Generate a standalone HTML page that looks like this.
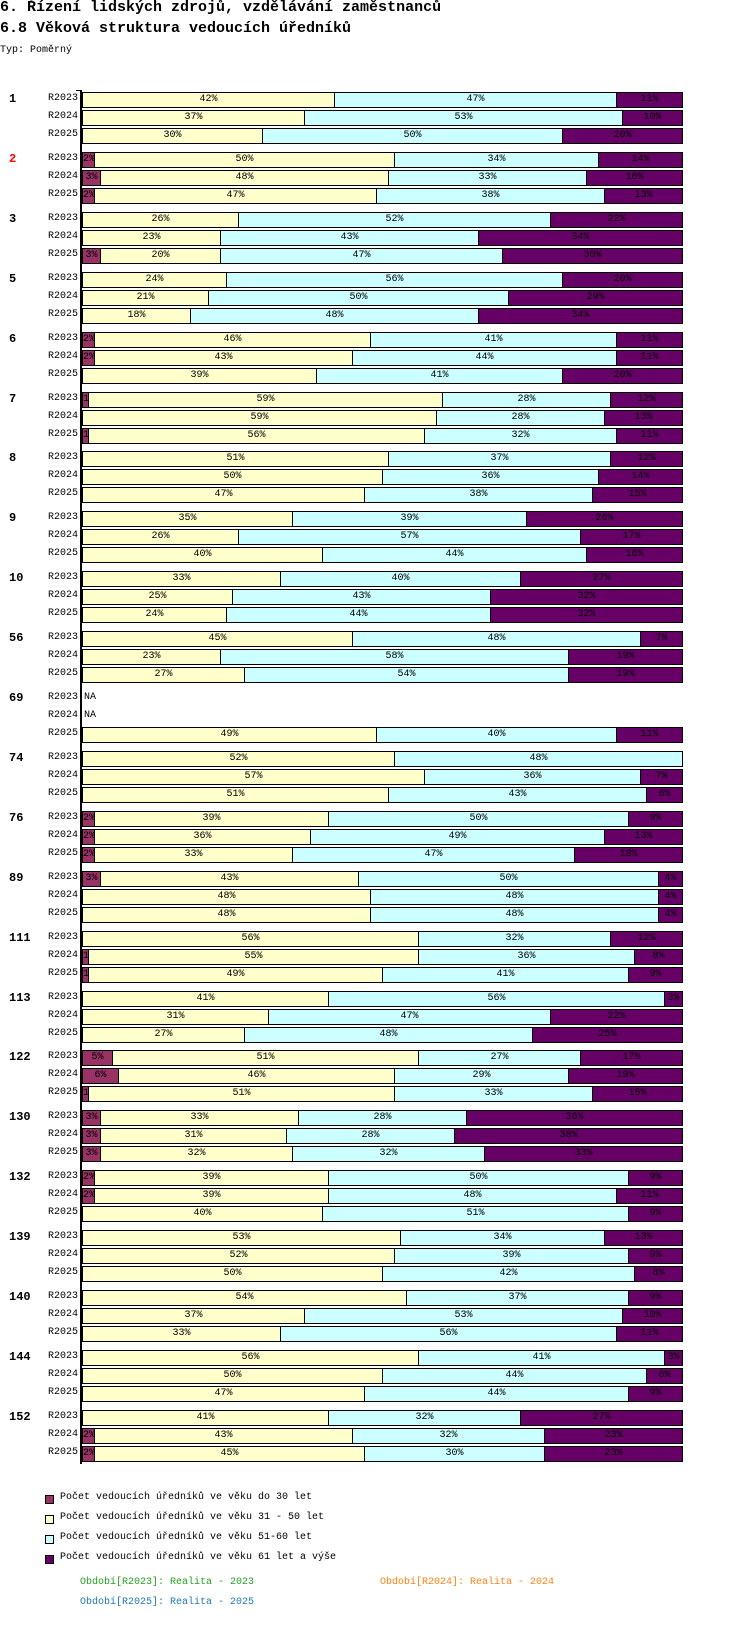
<!DOCTYPE html>
<html><head><meta charset="utf-8">
<style>
body{margin:0;width:750px;height:1642px;background:#fff;position:relative;overflow:hidden;font-family:"Liberation Mono",monospace;}
.abs{position:absolute;white-space:nowrap;}
.seg{position:absolute;box-sizing:border-box;border:1px solid #000;height:16px;overflow:hidden;font-size:10px;line-height:14px;text-align:center;color:#000;}
.gl{position:absolute;font-weight:bold;font-size:12px;left:9px;}
.pl{position:absolute;font-size:10px;width:78px;left:0;text-align:right;}
.sw{position:absolute;width:9px;height:9px;border:1px solid #000;box-sizing:border-box;left:45px;}
.lt{position:absolute;left:60px;font-size:10px;}
</style></head><body>
<div class="abs" style="left:0;top:-1px;font-size:15px;font-weight:bold;">6. Řízení lidských zdrojů, vzdělávání zaměstnanců</div>
<div class="abs" style="left:0;top:20px;font-size:15px;font-weight:bold;">6.8 Věková struktura vedoucích úředníků</div>
<div class="abs" style="left:0;top:45px;font-size:10px;">Typ: Poměrný</div>
<div id="chart"></div>
<div class="abs" style="left:80px;top:90px;width:2px;height:1374px;background:#000;"></div>
<div class="abs" style="left:76px;top:90px;width:5px;height:1px;background:#000;"></div>

<div class="sw" style="top:1495px;background:#993366"></div>
<div class="lt abs" style="top:1492px">Počet vedoucích úředníků ve věku do 30 let</div>
<div class="sw" style="top:1515px;background:#ffffcc"></div>
<div class="lt abs" style="top:1512px">Počet vedoucích úředníků ve věku 31 - 50 let</div>
<div class="sw" style="top:1535px;background:#ccffff"></div>
<div class="lt abs" style="top:1532px">Počet vedoucích úředníků ve věku 51-60 let</div>
<div class="sw" style="top:1555px;background:#660066"></div>
<div class="lt abs" style="top:1552px">Počet vedoucích úředníků ve věku 61 let a výše</div>
<div class="abs" style="left:80px;top:1577px;font-size:10px;color:#22a022">Období[R2023]: Realita - 2023</div>
<div class="abs" style="left:380px;top:1577px;font-size:10px;color:#ff8010">Období[R2024]: Realita - 2024</div>
<div class="abs" style="left:80px;top:1597px;font-size:10px;color:#1f77b4">Období[R2025]: Realita - 2025</div>

<script>
const groups=["1","2","3","5","6","7","8","9","10","56","69","74","76","89","111","113","122","130","132","139","140","144","152"];
const periods=["R2023","R2024","R2025"];
const under30=[[0,0,0],[2,3,2],[0,0,3],[0,0,0],[2,2,0],[1,0,1],[0,0,0],[0,0,0],[0,0,0],[0,0,0],[null,null,0],[0,0,0],[2,2,2],[3,0,0],[0,1,1],[0,0,0],[5,6,1],[3,3,3],[2,2,0],[0,0,0],[0,0,0],[0,0,0],[0,2,2]];
const age31_50=[[42,37,30],[50,48,47],[26,23,20],[24,21,18],[46,43,39],[59,59,56],[51,50,47],[35,26,40],[33,25,24],[45,23,27],[null,null,49],[52,57,51],[39,36,33],[43,48,48],[56,55,49],[41,31,27],[51,46,51],[33,31,32],[39,39,40],[53,52,50],[54,37,33],[56,50,47],[41,43,45]];
const age51_60=[[47,53,50],[34,33,38],[52,43,47],[56,50,48],[41,44,41],[28,28,32],[37,36,38],[39,57,44],[40,43,44],[48,58,54],[null,null,40],[48,36,43],[50,49,47],[50,48,48],[32,36,41],[56,47,48],[27,29,33],[28,28,32],[50,48,51],[34,39,42],[37,53,56],[41,44,44],[32,32,30]];
const age61plus=[[11,10,20],[14,16,13],[22,34,30],[20,29,34],[11,11,20],[12,13,11],[12,14,15],[26,17,16],[27,32,32],[7,19,19],[null,null,11],[0,7,6],[9,13,18],[4,4,4],[12,8,9],[3,22,25],[17,19,15],[36,38,33],[9,11,9],[13,9,8],[9,10,11],[3,6,9],[27,23,23]];
const series=[under30,age31_50,age51_60,age61plus];
const colors=["#993366","#ffffcc","#ccffff","#660066"];
const segNames=["under-30","31-50","51-60","61-plus"];
const X0=82,W=600,Y0=92,GP=59.9,RP=18;
const xs=v=>X0+W*v/100;
const chart=document.getElementById('chart');
groups.forEach((g,gi)=>{
  const gy=Y0+gi*GP;
  const gl=document.createElement('div');gl.className='gl';
  
  
  gl.style.top=(gy)+'px';gl.textContent=g;if(g==="2")gl.style.color='#f00';
  chart.appendChild(gl);
  periods.forEach((p,pi)=>{
    const y=Math.round(gy+pi*RP);
    const pl=document.createElement('div');pl.className='pl';
    
    
    pl.style.top=(y+1)+'px';pl.textContent=p;chart.appendChild(pl);
    if(series[0][gi][pi]===null){
      const na=document.createElement('div');na.className='abs';
      
      
      na.style.cssText='left:84px;top:'+(y+1)+'px;font-size:10px;';na.textContent='NA';chart.appendChild(na);return;
    }
    let cum=0;
    series.forEach((s,si)=>{
      const v=s[gi][pi];if(!v)return;
      const a=xs(cum),b=xs(cum+v);cum+=v;
      const d=document.createElement('div');d.className='seg';
      
      
      d.style.left=Math.round(a)+'px';d.style.width=(Math.round(b)-Math.round(a)+1)+'px';
      d.style.top=y+'px';d.style.background=colors[si];
      d.textContent=v+'%';chart.appendChild(d);
    });
  });
});
</script>
</body></html>
